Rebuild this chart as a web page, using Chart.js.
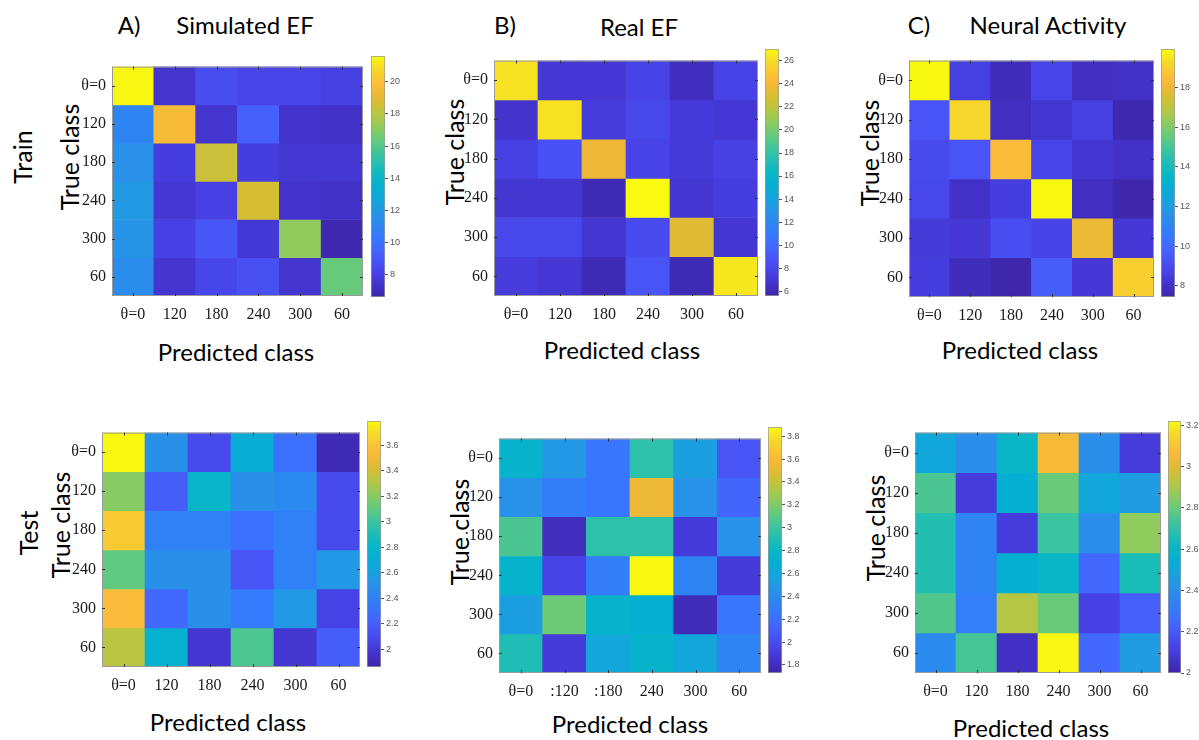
<!DOCTYPE html>
<html>
<head>
<meta charset="utf-8">
<script src="https://cdn.jsdelivr.net/npm/chart.js@4.4.0/dist/chart.umd.min.js"></script>
<style>
  body { margin: 0; background: #fff; width: 1199px; height: 740px; position: relative; overflow: hidden; }
  canvas { position: absolute; }
  .t { position: absolute; font-family: Lato, "Open Sans", sans-serif; color: #000; white-space: nowrap; transform: translate(-50%, -50%); }
  .r { transform: translate(-50%, -50%) rotate(-90deg); }
</style>
</head>
<body>
<div class="t" style="left:129px;top:24px;font-size:24px">A)</div>
<div class="t" style="left:245px;top:24px;font-size:24px">Simulated EF</div>
<div class="t" style="left:505px;top:24px;font-size:24px">B)</div>
<div class="t" style="left:639px;top:26px;font-size:24px">Real EF</div>
<div class="t" style="left:919px;top:24px;font-size:24px">C)</div>
<div class="t" style="left:1048px;top:24px;font-size:24px">Neural Activity</div>
<div class="t r" style="left:22px;top:157px;font-size:25px">Train</div>
<div class="t r" style="left:28px;top:533px;font-size:25px">Test</div>

<div class="t r" style="left:69px;top:157px;font-size:25px">True class</div>
<div class="t r" style="left:454px;top:152px;font-size:25px">True class</div>
<div class="t r" style="left:869px;top:153px;font-size:25px">True class</div>
<div class="t r" style="left:60px;top:525px;font-size:25px">True class</div>
<div class="t r" style="left:459px;top:532px;font-size:25px">True class</div>
<div class="t r" style="left:875px;top:528px;font-size:25px">True class</div>

<div class="t" style="left:236px;top:351px;font-size:24px">Predicted class</div>
<div class="t" style="left:622px;top:349px;font-size:24px">Predicted class</div>
<div class="t" style="left:1020px;top:349px;font-size:24px">Predicted class</div>
<div class="t" style="left:228px;top:721px;font-size:24px">Predicted class</div>
<div class="t" style="left:630px;top:723px;font-size:24px">Predicted class</div>
<div class="t" style="left:1031px;top:727px;font-size:24px">Predicted class</div>

<script>
// class labels
var classes = ['\u03b8=0', '120', '180', '240', '300', '60'];
var classesB = ['\u03b8=0', ':120', ':180', '240', '300', '60'];

// confusion values, rows = true class, columns = predicted class
var simTrain = [
  [21.5, 7.5, 8.6, 8.2, 8.2, 8.0],
  [11.0, 19.5, 7.5, 9.3, 7.4, 7.3],
  [11.6, 7.9, 18.4, 7.9, 7.6, 7.6],
  [12.0, 7.6, 8.1, 18.6, 7.4, 7.3],
  [11.8, 8.1, 9.0, 7.7, 17.2, 6.8],
  [11.4, 7.5, 8.3, 8.7, 7.5, 16.4]
];
var realTrain = [
  [26.2, 7.0, 7.0, 7.7, 6.3, 7.8],
  [6.8, 26.2, 7.3, 8.0, 7.2, 7.0],
  [7.6, 8.6, 23.8, 7.8, 7.2, 7.6],
  [6.9, 6.9, 6.0, 27.0, 6.9, 7.4],
  [8.0, 8.1, 6.9, 8.3, 23.2, 6.9],
  [7.3, 7.0, 6.0, 8.8, 6.0, 26.4]
];
var neuralTrain = [
  [19.9, 8.6, 7.8, 8.8, 7.9, 8.0],
  [9.3, 19.2, 7.9, 8.2, 8.6, 7.6],
  [9.0, 9.3, 18.4, 8.8, 8.2, 8.0],
  [8.9, 8.0, 8.5, 19.9, 7.9, 7.5],
  [8.4, 8.3, 9.1, 8.7, 18.0, 8.3],
  [8.5, 7.8, 7.5, 9.6, 8.3, 19.0]
];
var simTest = [
  [3.78, 2.5, 2.1, 2.7, 2.3, 1.9],
  [3.2, 2.2, 2.8, 2.5, 2.45, 2.1],
  [3.62, 2.4, 2.4, 2.3, 2.4, 2.1],
  [3.1, 2.5, 2.5, 2.15, 2.4, 2.55],
  [3.55, 2.25, 2.5, 2.35, 2.55, 2.05],
  [3.33, 2.75, 1.98, 3.05, 1.98, 2.2]
];
var realTest = [
  [2.75, 2.5, 2.25, 2.95, 2.55, 2.05],
  [2.45, 2.3, 2.25, 3.55, 2.45, 2.15],
  [3.05, 1.8, 2.95, 2.95, 1.9, 2.45],
  [2.75, 1.95, 2.3, 3.87, 2.35, 1.9],
  [2.55, 3.15, 2.75, 2.7, 1.78, 2.25],
  [2.9, 1.9, 2.6, 2.75, 2.6, 2.35]
];
var neuralTest = [
  [2.5, 2.4, 2.6, 3.05, 2.4, 2.1],
  [2.75, 2.1, 2.55, 2.8, 2.5, 2.45],
  [2.67, 2.35, 2.1, 2.72, 2.4, 2.86],
  [2.67, 2.35, 2.55, 2.6, 2.25, 2.65],
  [2.76, 2.33, 2.92, 2.8, 2.12, 2.22],
  [2.38, 2.74, 2.05, 3.21, 2.25, 2.45]
];

// colour limits and colorbar ticks
var simTrainRange = [6.63, 21.6];
var realTrainRange = [5.57, 27.04];
var neuralTrainRange = [7.43, 19.95];
var simTestRange = [1.86, 3.79];
var realTestRange = [1.73, 3.88];
var neuralTestRange = [2.0, 3.22];
var simTrainTicks = [8, 10, 12, 14, 16, 18, 20];
var realTrainTicks = [6, 8, 10, 12, 14, 16, 18, 20, 22, 24, 26];
var neuralTrainTicks = [8, 10, 12, 14, 16, 18];
var simTestTicks = [2, 2.2, 2.4, 2.6, 2.8, 3, 3.2, 3.4, 3.6];
var realTestTicks = [1.8, 2, 2.2, 2.4, 2.6, 2.8, 3, 3.2, 3.4, 3.6, 3.8];
var neuralTestTicks = [2, 2.2, 2.4, 2.6, 2.8, 3, 3.2];

// parula-like colormap
var stops = [
  [0.00, 62, 38, 168], [0.05, 67, 50, 202], [0.10, 71, 66, 230], [0.15, 72, 84, 246],
  [0.20, 67, 103, 253], [0.25, 53, 121, 253], [0.30, 45, 135, 240], [0.35, 38, 150, 230],
  [0.40, 20, 165, 220], [0.45, 5, 175, 210], [0.50, 10, 183, 196], [0.55, 35, 190, 178],
  [0.60, 65, 197, 155], [0.65, 100, 202, 125], [0.70, 140, 203, 96], [0.75, 178, 199, 70],
  [0.80, 212, 190, 52], [0.85, 240, 185, 55], [0.88, 252, 188, 58], [0.95, 245, 218, 40],
  [1.00, 249, 251, 14]
];
function parula(t) {
  t = Math.max(0, Math.min(1, t));
  for (var i = 1; i < stops.length; i++) {
    if (t <= stops[i][0]) {
      var a = stops[i - 1], b = stops[i];
      var f = (t - a[0]) / (b[0] - a[0]);
      return 'rgb(' + Math.round(a[1] + f * (b[1] - a[1])) + ',' +
        Math.round(a[2] + f * (b[2] - a[2])) + ',' + Math.round(a[3] + f * (b[3] - a[3])) + ')';
    }
  }
  return 'rgb(249,251,14)';
}

// frame + small inward ticks like matlab axes
var boxPlugin = {
  id: 'box',
  afterDatasetsDraw: function (chart) {
    var a = chart.chartArea, c = chart.ctx;
    c.save();
    c.strokeStyle = '#9a9a9a';
    c.lineWidth = 1;
    c.strokeRect(a.left + 0.5, a.top + 0.5, a.right - a.left - 1, a.bottom - a.top - 1);
    c.strokeStyle = '#333';
    var xs = chart.scales.x, ys = chart.scales.y;
    for (var i = 0; i < xs.ticks.length; i++) {
      var px = Math.round(xs.getPixelForTick(i)) + 0.5;
      c.beginPath(); c.moveTo(px, a.bottom); c.lineTo(px, a.bottom - 3);
      c.moveTo(px, a.top); c.lineTo(px, a.top + 3); c.stroke();
    }
    for (var j = 0; j < ys.ticks.length; j++) {
      var py = Math.round(ys.getPixelForTick(j)) + 0.5;
      c.beginPath(); c.moveTo(a.left, py); c.lineTo(a.left + 3, py);
      c.moveTo(a.right, py); c.lineTo(a.right - 3, py); c.stroke();
    }
    c.restore();
  }
};

function mk(left, top, w, h) {
  var cv = document.createElement('canvas');
  cv.width = w; cv.height = h;
  cv.style.left = left + 'px'; cv.style.top = top + 'px';
  cv.style.width = w + 'px'; cv.style.height = h + 'px';
  document.body.appendChild(cv);
  return cv.getContext('2d');
}

function heatmap(box, values, range, labels) {
  var L = box[0], T = box[1], R = box[2], B = box[3];
  var padL = 40, padB = 34;
  var ctx = mk(L - padL, T - 4, R - L + padL + 4, B - T + padB + 4);
  var sets = values.map(function (row, i) {
    return {
      data: row.map(function () { return [i, i + 1]; }),
      backgroundColor: row.map(function (v) { return parula((v - range[0]) / (range[1] - range[0])); }),
      borderWidth: 0,
      grouped: false,
      barPercentage: 1,
      categoryPercentage: 1
    };
  });
  return new Chart(ctx, {
    type: 'bar',
    data: { labels: labels, datasets: sets },
    options: {
      responsive: false,
      animation: false,
      layout: { padding: { top: 4, right: 4 } },
      plugins: { legend: { display: false }, tooltip: { enabled: false } },
      scales: {
        x: {
          grid: { display: false, drawTicks: false },
          border: { display: false },
          ticks: { color: '#1a1a1a', padding: 9, maxRotation: 0, font: { family: 'Liberation Serif', size: 16 } },
          afterFit: function (s) { s.height = padB; }
        },
        y: {
          reverse: true, min: 0, max: 6,
          grid: { display: false, drawTicks: false },
          border: { display: false },
          afterBuildTicks: function (s) {
            s.ticks = labels.map(function (l, i) { return { value: i + 0.5 }; });
          },
          ticks: {
            color: '#1a1a1a', padding: 6, font: { family: 'Liberation Serif', size: 16 },
            callback: function (v) { return labels[Math.floor(v)]; }
          },
          afterFit: function (s) { s.width = padL; }
        }
      }
    },
    plugins: [boxPlugin]
  });
}

function colorbar(box, range, ticks) {
  var L = box[0], T = box[1], R = box[2], B = box[3];
  var axisW = 24;
  var ctx = mk(L, T - 8, R - L + axisW, B - T + 16);
  return new Chart(ctx, {
    type: 'bar',
    data: {
      labels: [''],
      datasets: [{
        data: [range],
        borderColor: '#9a9a9a',
        borderWidth: 1,
        borderSkipped: false,
        barPercentage: 1,
        categoryPercentage: 1,
        backgroundColor: function (c) {
          var a = c.chart.chartArea;
          if (!a) return '#888';
          var g = c.chart.ctx.createLinearGradient(0, a.bottom, 0, a.top);
          stops.forEach(function (s) { g.addColorStop(s[0], 'rgb(' + s[1] + ',' + s[2] + ',' + s[3] + ')'); });
          return g;
        }
      }]
    },
    options: {
      responsive: false,
      animation: false,
      layout: { padding: { top: 8, bottom: 8 } },
      plugins: { legend: { display: false }, tooltip: { enabled: false } },
      scales: {
        x: { display: false },
        y: {
          position: 'right', min: range[0], max: range[1],
          grid: { drawOnChartArea: false, tickLength: 3, color: '#555', offset: false },
          border: { display: false },
          afterBuildTicks: function (s) { s.ticks = ticks.map(function (v) { return { value: v }; }); },
          ticks: { color: '#555', padding: 2, font: { family: 'Liberation Sans', size: 9 },
            callback: function (v) { return String(v); } },
          afterFit: function (s) { s.width = axisW; }
        }
      }
    }
  });
}

heatmap([112, 55, 363, 296], simTrain, simTrainRange, classes);
heatmap([494, 49, 758, 296], realTrain, realTrainRange, classes);
heatmap([909, 49, 1154, 297], neuralTrain, neuralTrainRange, classes);
heatmap([102, 421, 360, 667], simTest, simTestRange, classes);
heatmap([499, 427, 761, 673], realTest, realTestRange, classesB);
heatmap([915, 421, 1161, 673], neuralTest, neuralTestRange, classes);

colorbar([371, 56, 385, 297], simTrainRange, simTrainTicks);
colorbar([765, 49, 779, 296], realTrainRange, realTrainTicks);
colorbar([1161, 49, 1175, 297], neuralTrainRange, neuralTrainTicks);
colorbar([367, 421, 381, 667], simTestRange, simTestTicks);
colorbar([768, 427, 782, 673], realTestRange, realTestTicks);
colorbar([1168, 421, 1181, 673], neuralTestRange, neuralTestTicks);
</script>
</body>
</html>
